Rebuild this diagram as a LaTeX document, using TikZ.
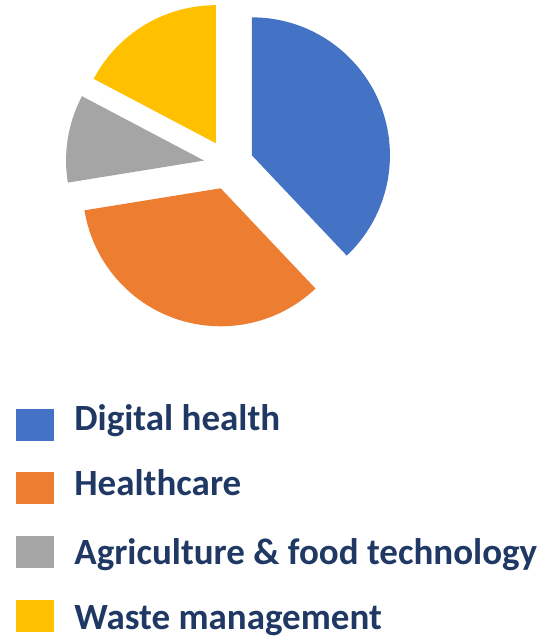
\documentclass[tikz,border=0pt]{standalone}
\usepackage{fontspec}
\setmainfont{Carlito}
\usetikzlibrary{positioning}
\definecolor{dhblue}{HTML}{4472C4}
\definecolor{hcorange}{HTML}{ED7D31}
\definecolor{aggray}{HTML}{A5A5A5}
\definecolor{wmyellow}{HTML}{FFC000}
\definecolor{keytext}{HTML}{1F3864}
\tikzset{
  keybox/.style={minimum width=38pt, minimum height=31.7pt, inner sep=0pt},
  keylabel/.style={inner sep=0pt, text=keytext, font=\fontsize{37}{44}\selectfont\bfseries}
}
\begin{document}
\begin{tikzpicture}[x=1pt,y=1pt]

  \useasboundingbox (0,0) rectangle (557,-639);

  \newcommand\R{138}
  \newcommand\D{25}
  %% one exploded slice: colour, start angle, end angle
  \newcommand\Slice[3]{\fill[#1] (C) ++({(#2+#3)/2}:\D) -- ++(#2:\R) arc[start angle=#2, end angle=#3, radius=\R] -- cycle;}

  \coordinate (C) at (228.7,-164.6);

  \Slice{dhblue}{90}{-46.6}      %% Digital health
  \Slice{hcorange}{-46.6}{-170.8} %% Healthcare
  \Slice{aggray}{-170.8}{-207.8}  %% Agriculture
  \Slice{wmyellow}{-207.8}{-270}  %% Waste

  %% legend
  \node[keybox, fill=dhblue]   (kdigital) at (35,-424.9) {};
  \node[keybox, fill=hcorange] (khealth)  at (35,-487.9) {};
  \node[keybox, fill=aggray]   (kagri)    at (35,-551.9) {};
  \node[keybox, fill=wmyellow] (kwaste)   at (35,-615.9) {};

  \node[keylabel, right=20pt of kdigital, anchor=base west, yshift=-5.1pt]  (ldigital) {Digital health};
  \node[keylabel, right=20pt of khealth, anchor=base west, yshift=-7.8pt]   (lhealth)  {Healthcare};
  \node[keylabel, right=20pt of kagri, anchor=base west, yshift=-12.4pt]    (lagri)    {Agriculture \& food technology};
  \node[keylabel, right=20pt of kwaste, anchor=base west, yshift=-13.4pt]   (lwaste)   {Waste management};

\end{tikzpicture}
\end{document}
